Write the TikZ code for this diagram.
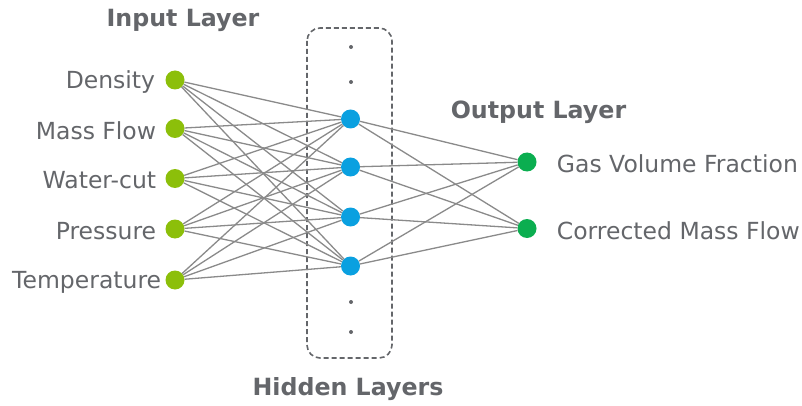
\documentclass[tikz,border=0pt]{standalone}
\usepackage{fontspec}
\setmainfont{DejaVu Sans}
\usetikzlibrary{positioning}
\definecolor{gristext}{HTML}{64666A}
\definecolor{verdeintr}{HTML}{8CBF0A}
\definecolor{albastru}{HTML}{0AA0E0}
\definecolor{verdeies}{HTML}{0BAE50}
\definecolor{grislinie}{HTML}{8A8A8A}
\tikzset{
  neuron/.style    = {circle, minimum size=19pt, inner sep=0pt},
  intrare/.style   = {neuron, fill=verdeintr},
  ascuns/.style    = {neuron, fill=albastru},
  iesire/.style    = {neuron, fill=verdeies},
  legatura/.style  = {draw=grislinie, line width=1.3pt},
  eticheta/.style  = {text=gristext, inner sep=0pt, yshift=-2pt,
                      font=\fontsize{23.5}{28}\selectfont},
  titlu/.style     = {text=gristext, inner sep=0pt, font=\fontsize{23.7}{28}\selectfont\bfseries},
  punct/.style     = {circle, fill=gristext, minimum size=4pt, inner sep=0pt},
  cadru/.style     = {draw=gristext, line width=1.6pt, rounded corners=13pt,
                      dash pattern=on 5pt off 3pt}
}

\begin{document}
\begin{tikzpicture}[x=1pt, y=-1pt]
    \useasboundingbox (0,0) rectangle (802,406);

    % stratul ascuns
    \draw[cadru] (307,28) rectangle (392,358);
    \node[punct] (p1) at (351,47) {};
    \node[punct] (p2) at (351,82) {};
    \node[punct] (p3) at (351,302) {};
    \node[punct] (p4) at (351,332) {};
    \node[ascuns] (h1) at (350.5,119) {};
    \node[ascuns] (h2) at (350.5,167) {};
    \node[ascuns] (h3) at (350.5,217) {};
    \node[ascuns] (h4) at (350.5,266) {};

    % intrari
    \node[intrare] (i1) at (175,80) {};
    \node[intrare] (i2) at (175,128.5) {};
    \node[intrare] (i3) at (175,178.5) {};
    \node[intrare] (i4) at (175,229) {};
    \node[intrare] (i5) at (175,280) {};
    \node[eticheta, left=10pt of i1] (e1) {Density};
    \node[eticheta, left=9pt of i2] (e2) {Mass Flow};
    \node[eticheta, left=9pt of i3] (e3) {Water-cut};
    \node[eticheta, left=9pt of i4] (e4) {Pressure};
    \node[eticheta, left=4pt of i5] (e5) {Temperature};

    % iesiri
    \node[iesire] (o1) at (527,162) {};
    \node[iesire] (o2) at (527,228.5) {};
    \node[eticheta, right=20pt of o1] (s1) {Gas Volume Fraction};
    \node[eticheta, right=20pt of o2] (s2) {Corrected Mass Flow};

    % titluri
    \node[titlu] (tin) at (183,20) {Input Layer};
    \node[titlu] (tout) at (538.5,112) {Output Layer};
    \node[titlu] (thid) at (348,389) {Hidden Layers};

    % conexiuni complete
    \foreach \i in {1,...,5}
      \foreach \h in {1,...,4}
        \draw[legatura] (i\i) -- (h\h);
    \foreach \h in {1,...,4}
      \foreach \o in {1,2}
        \draw[legatura] (h\h) -- (o\o);
\end{tikzpicture}
\end{document}
